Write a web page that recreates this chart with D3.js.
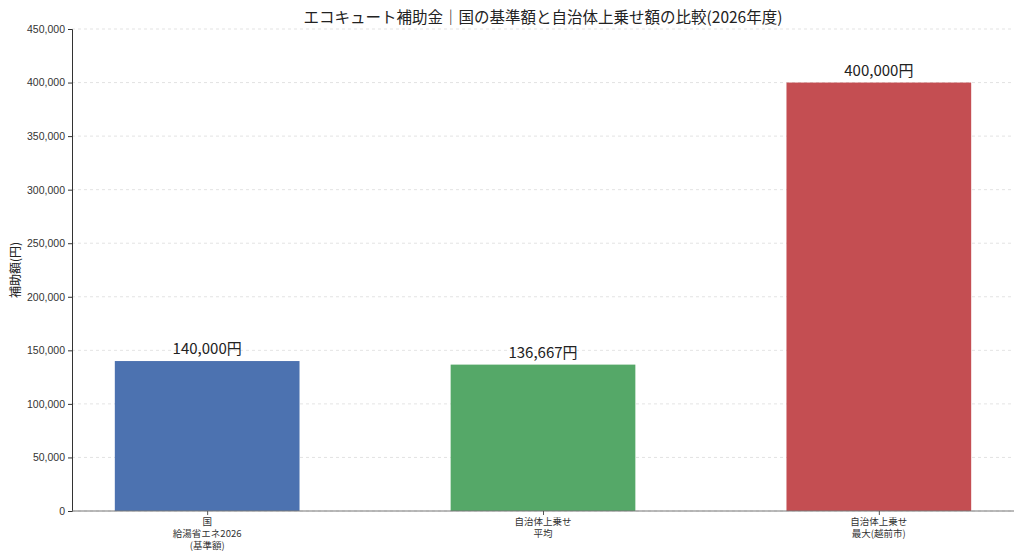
<!DOCTYPE html>
<html>
<head>
<meta charset="utf-8">
<script src="https://cdn.jsdelivr.net/npm/d3@7"></script>
<style>
  body { margin: 0; background: #fff; }
  svg { font-family: "Noto Sans CJK JP", "Noto Sans", sans-serif; }
</style>
</head>
<body>
<div class="div-chart"></div>
<script>
// chart data
const categories = ["国\n給湯省エネ2026\n(基準額)", "自治体上乗せ\n平均", "自治体上乗せ\n最大(越前市)"];
const amounts = [140000, 136667, 400000];
const valueLabels = ["140,000円", "136,667円", "400,000円"];
const barColors = ["#4C72B0", "#55A868", "#C44E52"];
const yTicks = [0, 50000, 100000, 150000, 200000, 250000, 300000, 350000, 400000, 450000];

const width = 1024,
  height = 559;
const margin = { top: 29, right: 10, bottom: 48, left: 72 };
const innerW = width - margin.left - margin.right,
  innerH = height - margin.top - margin.bottom;

const svg = d3
  .select(".div-chart")
  .append("svg")
  .attr("width", width)
  .attr("height", height);

const plotG = svg
  .append("g")
  .attr("transform", `translate(${margin.left},${margin.top})`);

// matplotlib-like positions: index 0..2, bar width 0.55, 5% margins
const barWidth = 0.55;
const x = d3
  .scaleLinear()
  .domain([-0.4025, 2.4025])
  .range([0, innerW]);

const y = d3.scaleLinear().domain([0, 450000]).range([innerH, 0]);

// grid
plotG
  .append("g")
  .selectAll("line")
  .data(yTicks)
  .join("line")
  .attr("x1", 0)
  .attr("x2", innerW)
  .attr("y1", (d) => y(d))
  .attr("y2", (d) => y(d))
  .attr("stroke", "#dcdcdc")
  .attr("stroke-width", 0.8)
  .attr("stroke-dasharray", "3,3");

// bars
plotG
  .append("g")
  .selectAll("rect")
  .data(amounts)
  .join("rect")
  .attr("x", (d, i) => x(i - barWidth / 2))
  .attr("width", (d, i) => x(i + barWidth / 2) - x(i - barWidth / 2))
  .attr("y", (d) => y(d))
  .attr("height", (d) => innerH - y(d))
  .attr("fill", (d, i) => barColors[i]);

// value labels
plotG
  .append("g")
  .selectAll("text")
  .data(amounts)
  .join("text")
  .attr("x", (d, i) => x(i))
  .attr("y", (d) => y(d) - 7)
  .attr("text-anchor", "middle")
  .attr("font-size", 15)
  .attr("fill", "#222")
  .text((d, i) => valueLabels[i]);

// y axis
const yAxis = plotG
  .append("g")
  .call(
    d3
      .axisLeft(y)
      .tickValues(yTicks)
      .tickSize(4)
      .tickPadding(3)
      .tickFormat(d3.format(","))
  );
yAxis.select(".domain").attr("stroke", "#333");
yAxis.selectAll(".tick line").attr("stroke", "#333");
yAxis.selectAll("text").attr("font-size", 10.5).attr("fill", "#333");

// x axis
const xAxis = plotG
  .append("g")
  .attr("transform", `translate(0,${innerH})`)
  .call(
    d3
      .axisBottom(x)
      .tickValues([0, 1, 2])
      .tickSize(4)
      .tickFormat("")
  );
xAxis.select(".domain").attr("stroke", "#777").attr("d", `M0,0H${innerW}`);
xAxis.selectAll(".tick line").attr("stroke", "#555");

// multi-line category labels, one text per line
const lineGap = 12;
const xLabelG = plotG
  .append("g")
  .selectAll("g")
  .data(categories)
  .join("g")
  .attr("transform", (d, i) => `translate(${x(i)},${innerH + 14})`);

xLabelG
  .selectAll("text")
  .data((d) => d.split("\n"))
  .join("text")
  .attr("y", (d, i) => i * lineGap)
  .attr("text-anchor", "middle")
  .attr("font-size", 9.5)
  .attr("fill", "#333")
  .text((d) => d);

// y label
svg
  .append("text")
  .attr("transform", `translate(20,${margin.top + innerH / 2}) rotate(-90)`)
  .attr("text-anchor", "middle")
  .attr("font-size", 12)
  .attr("fill", "#222")
  .text("補助額(円)");

// title
svg
  .append("text")
  .attr("x", margin.left + innerW / 2)
  .attr("y", 23)
  .attr("text-anchor", "middle")
  .attr("font-size", 15.5)
  .attr("fill", "#222")
  .text("エコキュート補助金｜国の基準額と自治体上乗せ額の比較(2026年度)");
</script>
</body>
</html>
